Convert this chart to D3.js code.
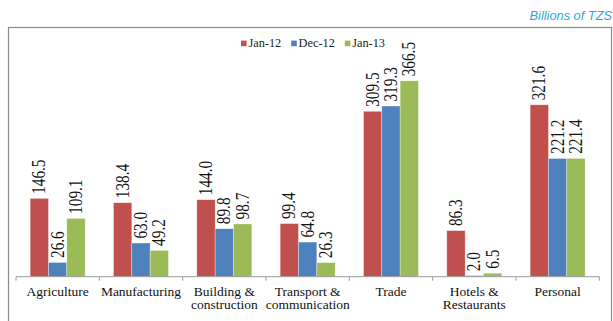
<!DOCTYPE html>
<html>
<head>
<meta charset="utf-8">
<script src="https://cdn.jsdelivr.net/npm/d3@7"></script>
<style>
  html, body { margin: 0; padding: 0; background: #fff; }
  svg { display: block; }
  .serif { font-family: "Liberation Serif", "Times New Roman", Times, "DejaVu Serif", serif; }
  .note { font-family: "Liberation Sans", Arial, Helvetica, sans-serif; font-style: italic; }
</style>
</head>
<body>
<svg id="chart" width="613" height="321"></svg>
<script>
// Sector credit, billions of TZS
const categories = ["Agriculture", "Manufacturing", "Building & construction", "Transport & communication", "Trade", "Hotels & Restaurants", "Personal"];
const categoryLines = [["Agriculture"], ["Manufacturing"], ["Building &", "construction"], ["Transport &", "communication"], ["Trade"], ["Hotels &", "Restaurants"], ["Personal"]];
const seriesNames = ["Jan-12", "Dec-12", "Jan-13"];
const jan12 = [146.5, 138.4, 144.0, 99.4, 309.5, 86.3, 321.6];
const dec12 = [26.6, 63.0, 89.8, 64.8, 319.3, 2.0, 221.2];
const jan13 = [109.1, 49.2, 98.7, 26.3, 366.5, 6.5, 221.4];
const seriesColors = ["#C0504D", "#4F81BD", "#9BBB59"];

const values = [jan12, dec12, jan13];
const svg = d3.select("#chart");
const W = 613, H = 321;

// outer frame
svg.append("rect")
  .attr("x", 8.5).attr("y", 27.5)
  .attr("width", 611.5 - 8.5).attr("height", H)
  .attr("fill", "none").attr("stroke", "#8a8a8a").attr("stroke-width", 1.2);

// unit note
svg.append("text")
  .attr("class", "note")
  .attr("x", 612).attr("y", 20)
  .attr("text-anchor", "end")
  .attr("font-size", 12.8)
  .attr("fill", "#2AA9E0")
  .text("Billions of TZS");

const baseY = 276.7;
const x = d3.scaleBand().domain(categories).range([16, 599.3]).padding(0);
const xs = d3.scaleBand().domain(seriesNames).range([0, x.bandwidth()]).paddingInner(0).paddingOuter(0.773);
const y = d3.scaleLinear().domain([0, 400]).range([baseY, baseY - 213.8]);

// bars and value labels
seriesNames.forEach((s, si) => {
  const g = svg.append("g");
  g.selectAll("rect")
    .data(categories)
    .join("rect")
    .attr("x", c => x(c) + xs(s))
    .attr("width", xs.bandwidth())
    .attr("y", (c, i) => y(values[si][i]))
    .attr("height", (c, i) => baseY - y(values[si][i]))
    .attr("fill", seriesColors[si])
    .attr("stroke", "#ffffff")
    .attr("stroke-opacity", 0.55)
    .attr("stroke-width", 0.6);

  g.selectAll("text")
    .data(categories)
    .join("text")
    .attr("class", "serif")
    .attr("transform", (c, i) => {
      const cx = x(c) + xs(s) + xs.bandwidth() / 2;
      const ty = y(values[si][i]) - 4.5;
      return `translate(${cx},${ty}) rotate(-90) scale(0.85,1)`;
    })
    .attr("dy", "0.34em")
    .attr("font-size", 18)
    .attr("fill", "#111")
    .text((c, i) => values[si][i].toFixed(1));
});

// category axis
const axis = svg.append("g").attr("transform", `translate(0,${baseY})`);
axis.append("line")
  .attr("x1", 16).attr("x2", 599.3)
  .attr("stroke", "#9a9a9a").attr("stroke-width", 1);
const edges = categories.map(c => x(c)).concat([x.range()[1]]);
axis.selectAll("line.tick")
  .data(edges)
  .join("line")
  .attr("class", "tick")
  .attr("x1", d => d).attr("x2", d => d)
  .attr("y1", 0).attr("y2", 4)
  .attr("stroke", "#9a9a9a").attr("stroke-width", 1);

// category names, one text per line
const labels = svg.append("g");
categories.forEach((c, i) => {
  categoryLines[i].forEach((line, li) => {
    labels.append("text")
      .attr("class", "serif")
      .attr("x", x(c) + x.bandwidth() / 2)
      .attr("y", 296 + li * 13.4)
      .attr("text-anchor", "middle")
      .attr("font-size", 13.5)
      .attr("fill", "#111")
      .text(line);
  });
});

// legend
const legend = svg.append("g");
let lx = 241;
seriesNames.forEach((s, si) => {
  legend.append("rect")
    .attr("x", lx).attr("y", 40.6)
    .attr("width", 5.6).attr("height", 5.6)
    .attr("fill", seriesColors[si]);
  const t = legend.append("text")
    .attr("class", "serif")
    .attr("x", lx + 7.4).attr("y", 46.6)
    .attr("font-size", 12.3)
    .attr("fill", "#222")
    .text(s);
  lx += 7.4 + t.node().getComputedTextLength() + 10;
});
</script>
</body>
</html>
